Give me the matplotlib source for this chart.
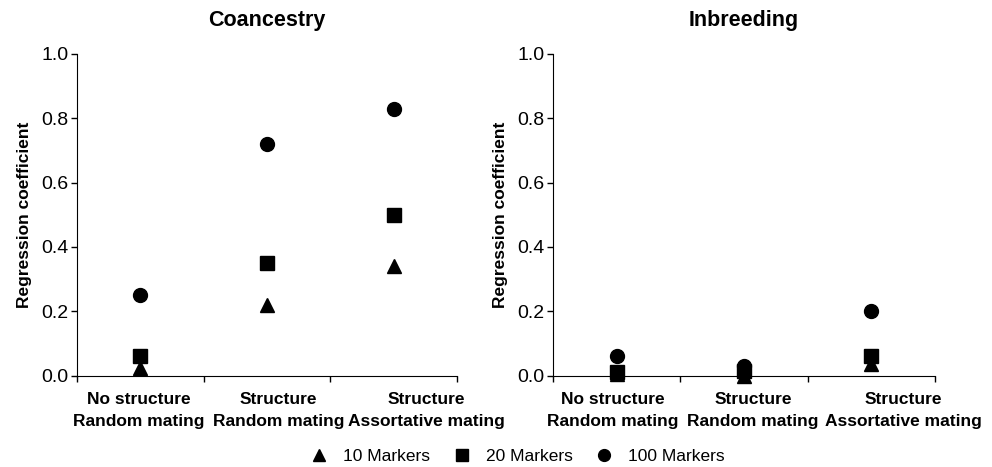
import matplotlib.pyplot as plt
from matplotlib.ticker import FormatStrFormatter

plt.rcParams['font.family'] = ['Liberation Sans', 'DejaVu Sans']

# Categories and values
categories = ['No structure\nRandom mating', 'Structure\nRandom mating', 'Structure\nAssortative mating']
panels = ['Coancestry', 'Inbreeding']

coan_10 = [0.025, 0.22, 0.34]
coan_20 = [0.06, 0.35, 0.50]
coan_100 = [0.25, 0.72, 0.83]

inb_10 = [0.005, 0.0, 0.035]
inb_20 = [0.01, 0.015, 0.06]
inb_100 = [0.06, 0.03, 0.20]

series_labels = ['10 Markers', '20 Markers', '100 Markers']
series_markers = ['^', 's', 'o']

fig = plt.figure(figsize=(9.92, 4.67), dpi=100)
ax1 = fig.add_axes([0.0776, 0.1957, 0.383, 0.6887])
ax2 = fig.add_axes([0.5575, 0.1957, 0.385, 0.6887])

xpos = [i + 0.5 for i in range(len(categories))]
# the category labels sit a bit right of the points, as in the original
label_pos = [[0.49, 1.59, 2.76], [0.47, 1.57, 2.75]]
data = [[coan_10, coan_20, coan_100], [inb_10, inb_20, inb_100]]

handles = []
for ax, title, vals, lp in zip([ax1, ax2], panels, data, label_pos):
    for v, m, lab in zip(vals, series_markers, series_labels):
        h, = ax.plot(xpos, v, linestyle='none', marker=m, color='black',
                     markersize=10, label=lab, clip_on=False)
        if ax is ax1:
            handles.append(h)
    ax.set_xlim(0, 3)
    ax.set_ylim(0, 1.0)
    ax.set_yticks([0, 0.2, 0.4, 0.6, 0.8, 1.0])
    ax.yaxis.set_major_formatter(FormatStrFormatter('%.1f'))
    ax.set_xticks([0, 1, 2, 3])
    ax.set_xticklabels([])
    ax.set_xticks(lp, minor=True)
    ax.set_xticklabels(categories, minor=True, fontweight='bold', fontsize=12.5,
                       linespacing=1.55)
    ax.tick_params(axis='x', which='minor', length=0, pad=12)
    ax.tick_params(axis='x', which='major', length=4, width=1)
    ax.tick_params(axis='y', length=4, width=1, labelsize=14, pad=2)
    for s in ['top', 'right']:
        ax.spines[s].set_visible(False)
    ax.set_ylabel('Regression coefficient', fontweight='bold', fontsize=12.5, labelpad=7)
    ax.set_title(title, fontweight='bold', fontsize=15.5, pad=20)

fig.legend(handles=handles, loc='lower center', bbox_to_anchor=(0.521, -0.028), ncol=3,
           frameon=False, fontsize=12.5, handletextpad=0.8, columnspacing=1.2,
           handlelength=1.2, markerscale=0.85)

fig.savefig('out.png', dpi=100)
